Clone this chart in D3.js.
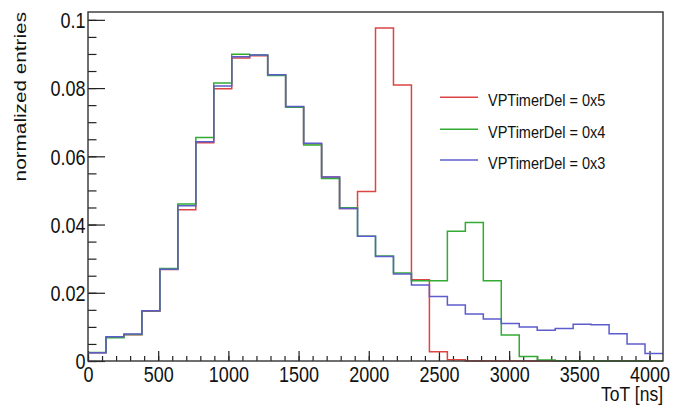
<!DOCTYPE html>
<html lang="en">
<head>
<meta charset="utf-8">
<title>ToT normalized entries</title>
<script src="https://cdn.jsdelivr.net/npm/d3@7"></script>
<style>
  body { margin: 0; background: #fff; }
  svg { display: block; font-family: "Liberation Sans", Arial, Helvetica, sans-serif; }
  .axis path, .axis line { stroke: #222; stroke-width: 1.2px; }
  .axis text { fill: #111; font-size: 18px; }
  .frame { fill: none; stroke: #333; stroke-width: 1.4px; }
  .hist { fill: none; stroke-width: 1.5px; }
  .legend { font-size: 14.5px; fill: #111; }
  .title { font-size: 18px; fill: #111; }
</style>
</head>
<body>
<script>
// bin edges of the ToT histogram (ns)
var binEdges = [0,128,256,384,512,640,768,896,1024,1152,1280,1408,1536,1664,1792,1920,
                2048,2176,2304,2432,2560,2688,2816,2944,3072,3200,3328,3456,3584,3712,3840,3968,4096];

// normalized entries per bin
var del5 = [0.0024,0.0070,0.0077,0.0146,0.0268,0.0443,0.0640,0.0798,0.0888,0.0895,0.0838,0.0745,
            0.0637,0.0539,0.0447,0.0497,0.0976,0.0809,0.0238,0.0027,0.0004,0,0,0,
            0,0,0,0,0,0,0,0];
var del4 = [0.0025,0.0068,0.0078,0.0147,0.0271,0.0460,0.0655,0.0815,0.0899,0.0897,0.0837,0.0744,
            0.0633,0.0535,0.0449,0.0366,0.0308,0.0258,0.0235,0.0235,0.0380,0.0406,0.0235,0.0076,
            0.0013,0.0003,0,0,0,0,0,0];
var del3 = [0.0024,0.0071,0.0079,0.0147,0.0269,0.0455,0.0643,0.0806,0.0892,0.0897,0.0839,0.0746,
            0.0638,0.0539,0.0447,0.0366,0.0306,0.0255,0.0223,0.0189,0.0164,0.0138,0.0123,0.0110,
            0.0100,0.0090,0.0095,0.0108,0.0106,0.0080,0.0050,0.0022];

var seriesNames = ["VPTimerDel = 0x5", "VPTimerDel = 0x4", "VPTimerDel = 0x3"];
var seriesColors = ["#dd4444", "#33aa33", "#5c5ccc"];

var xMajor = [0,500,1000,1500,2000,2500,3000,3500,4000];
var yMajor = [0,0.02,0.04,0.06,0.08,0.1];

var w = 675, h = 406;
var padL = 88, padR = 663, padT = 12, padB = 361;
var stretch = 1.2;

var x = d3.scaleLinear().domain([0, 4096]).range([padL, padR]);
var y = d3.scaleLinear().domain([0, 0.1023]).range([padB, padT]);

var svg = d3.select("body").append("svg").attr("width", w).attr("height", h);

// minor ticks
svg.append("g").attr("class", "axis").attr("transform", "translate(0," + padB + ")")
   .call(d3.axisBottom(x).tickValues(d3.range(0, 4001, 100)).tickSize(-5).tickFormat(""))
   .select(".domain").remove();
svg.append("g").attr("class", "axis").attr("transform", "translate(" + padL + ",0)")
   .call(d3.axisLeft(y).tickValues(d3.range(0, 0.1001, 0.005)).tickSize(-8.5).tickFormat(""))
   .select(".domain").remove();

// major ticks + labels
var xa = svg.append("g").attr("class", "axis").attr("transform", "translate(0," + padB + ")")
   .call(d3.axisBottom(x).tickValues(xMajor).tickSize(-10).tickSizeOuter(0).tickFormat(d3.format("d")));
xa.select(".domain").remove();
xa.selectAll("text").attr("y", 0).attr("dy", null)
   .attr("transform", "translate(0,21) scale(1," + stretch + ")");

var ya = svg.append("g").attr("class", "axis").attr("transform", "translate(" + padL + ",0)")
   .call(d3.axisLeft(y).tickValues(yMajor).tickSize(-17).tickSizeOuter(0)
         .tickFormat(function(d) { return String(+d.toFixed(2)); }));
ya.select(".domain").remove();
ya.selectAll("text").attr("x", 0).attr("dy", null).attr("text-anchor", "end")
   .attr("transform", "translate(-2.5,7.7) scale(1," + stretch + ")");

// histograms
var line = d3.line().curve(d3.curveStepAfter)
   .x(function(d) { return x(d[0]); })
   .y(function(d) { return y(d[1]); });

[del5, del4, del3].forEach(function(vals, i) {
  var pts = vals.map(function(v, k) { return [binEdges[k], v]; });
  pts.push([binEdges[binEdges.length - 1], vals[vals.length - 1]]);
  svg.append("path").attr("class", "hist").attr("d", line(pts))
     .attr("stroke", seriesColors[i]);
});

// frame
svg.append("rect").attr("class", "frame")
   .attr("x", padL).attr("y", padT).attr("width", padR - padL).attr("height", padB - padT);

// axis titles
svg.append("text").attr("class", "title").attr("text-anchor", "end")
   .style("font-size", "17.5px")
   .attr("transform", "translate(" + padR + ",401) scale(1,1.15)")
   .text("ToT [ns]");
svg.append("text").attr("class", "title").attr("text-anchor", "end")
   .style("font-size", "17px")
   .attr("transform", "translate(26," + padT + ") rotate(-90) scale(1.22,1)")
   .text("normalized entries");

// legend
var legY = [97.3, 129.3, 160];
seriesNames.forEach(function(name, i) {
  svg.append("line").attr("x1", 440).attr("x2", 478).attr("y1", legY[i]).attr("y2", legY[i])
     .attr("stroke", seriesColors[i]).attr("stroke-width", 1.5);
  svg.append("text").attr("class", "legend")
     .attr("transform", "translate(488," + (legY[i] + 8.5) + ") scale(1," + stretch + ")")
     .text(name);
});
</script>
</body>
</html>
